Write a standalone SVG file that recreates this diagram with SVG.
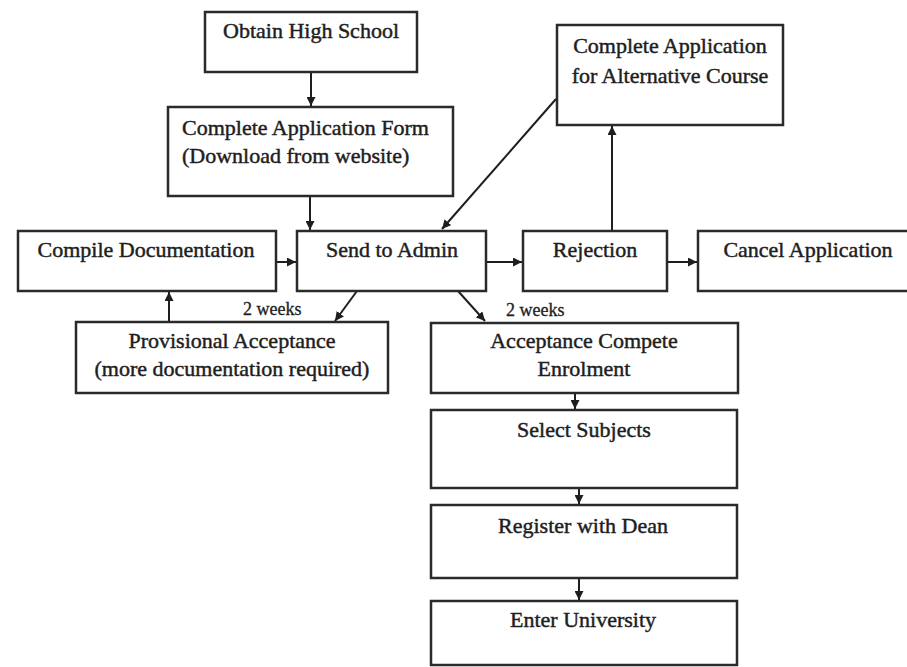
<svg xmlns="http://www.w3.org/2000/svg" width="907" height="667" viewBox="0 0 907 667">
<defs>
<marker id="ah" viewBox="0 0 10 10" refX="10" refY="5" markerWidth="9" markerHeight="9" markerUnits="userSpaceOnUse" orient="auto">
<path d="M0,0 L10,5 L0,10 Z" fill="#1e1e1e"/>
</marker>
</defs>
<style>
.box{fill:#fff;stroke:#2a2a2a;stroke-width:2.5}
.t{font-family:"Liberation Serif","Times New Roman",serif;font-size:22px;fill:#1e1e1e;stroke:#1e1e1e;stroke-width:0.45;text-anchor:middle}
.s{font-family:"Liberation Serif","Times New Roman",serif;font-size:18px;fill:#1e1e1e;stroke:#1e1e1e;stroke-width:0.3}
.c{stroke:#1e1e1e;stroke-width:2;fill:none;marker-end:url(#ah)}
</style>
<rect width="907" height="667" fill="#fff"/>
<g id="connectors">
<line class="c" x1="311" y1="73" x2="311" y2="106"/>
<line class="c" x1="310" y1="197" x2="310" y2="230"/>
<line class="c" x1="276" y1="262" x2="296" y2="262"/>
<line class="c" x1="486" y1="262" x2="522" y2="262"/>
<line class="c" x1="667" y1="262" x2="697" y2="262"/>
<line class="c" x1="612" y1="231" x2="612" y2="126"/>
<line class="c" x1="556" y1="99" x2="442" y2="229"/>
<line class="c" x1="357" y1="291" x2="335" y2="321"/>
<line class="c" x1="169" y1="322" x2="169" y2="292"/>
<line class="c" x1="458" y1="291" x2="485" y2="321"/>
<line class="c" x1="575" y1="393" x2="575" y2="409"/>
<line class="c" x1="579" y1="488" x2="579" y2="504"/>
<line class="c" x1="579" y1="578" x2="579" y2="600"/>
<text class="s" x="243" y="315">2 weeks</text>
<text class="s" x="506" y="316">2 weeks</text>
</g>
<g id="obtain">
<rect class="box" x="205" y="12" width="212" height="60"/>
<text class="t" x="311" y="38">Obtain High School</text>
</g>
<g id="appform">
<rect class="box" x="168" y="107" width="285" height="89"/>
<text class="t" x="182" y="135" style="text-anchor:start">Complete Application Form</text>
<text class="t" x="182" y="163" style="text-anchor:start">(Download from website)</text>
</g>
<g id="alt">
<rect class="box" x="557" y="25" width="226" height="100"/>
<text class="t" x="670" y="53">Complete Application</text>
<text class="t" x="670" y="83">for Alternative Course</text>
</g>
<g id="compile">
<rect class="box" x="18" y="231" width="258" height="60"/>
<text class="t" x="146" y="257">Compile Documentation</text>
</g>
<g id="send">
<rect class="box" x="297" y="231" width="189" height="60"/>
<text class="t" x="392" y="257">Send to Admin</text>
</g>
<g id="rejection">
<rect class="box" x="523" y="231" width="144" height="60"/>
<text class="t" x="595" y="257">Rejection</text>
</g>
<g id="cancel">
<rect class="box" x="698" y="231" width="215" height="60"/>
<text class="t" x="808" y="257">Cancel Application</text>
</g>
<g id="provisional">
<rect class="box" x="76" y="322" width="312" height="71"/>
<text class="t" x="232" y="348">Provisional Acceptance</text>
<text class="t" x="232" y="376">(more documentation required)</text>
</g>
<g id="acceptance">
<rect class="box" x="431" y="323" width="307" height="70"/>
<text class="t" x="584" y="348">Acceptance Compete</text>
<text class="t" x="584" y="376">Enrolment</text>
</g>
<g id="subjects">
<rect class="box" x="431" y="410" width="306" height="78"/>
<text class="t" x="584" y="437">Select Subjects</text>
</g>
<g id="dean">
<rect class="box" x="431" y="505" width="306" height="73"/>
<text class="t" x="583" y="533">Register with Dean</text>
</g>
<g id="enter">
<rect class="box" x="431" y="601" width="306" height="64"/>
<text class="t" x="583" y="627">Enter University</text>
</g>
</svg>
